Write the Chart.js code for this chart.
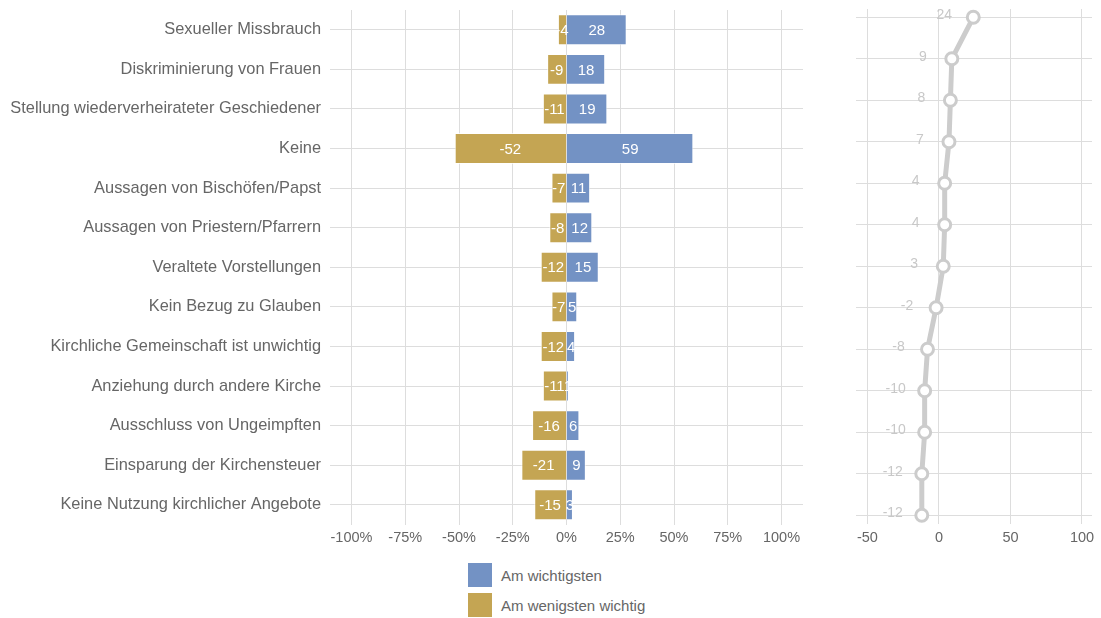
<!DOCTYPE html>
<html>
<head>
<meta charset="utf-8">
<script src="https://cdn.jsdelivr.net/npm/chart.js@4.4.1/dist/chart.umd.min.js"></script>
<style>
  html, body { margin: 0; padding: 0; background: #fff; }
  body { width: 1101px; height: 618px; position: relative; overflow: hidden; font-family: 'Liberation Sans', Arial, sans-serif; }
  #barsWrap { position: absolute; left: 0; top: 0; width: 815px; height: 560px; }
  #netWrap { position: absolute; left: 840px; top: 0; width: 261px; height: 560px; }
  .legend { position: absolute; left: 468px; top: 563px; }
  .legend-item { display: flex; align-items: center; height: 24px; margin-bottom: 6px; color: #666; font-size: 15px; }
  .legend-item span.box { width: 24px; height: 24px; margin-right: 9px; }
</style>
</head>
<body>
<div id="barsWrap"><canvas id="barsChart" width="815" height="560"></canvas></div>
<div id="netWrap"><canvas id="netChart" width="261" height="560"></canvas></div>
<div class="legend">
  <div class="legend-item"><span class="box" style="background:#7392c4"></span>Am wichtigsten</div>
  <div class="legend-item"><span class="box" style="background:#c4a553"></span>Am wenigsten wichtig</div>
</div>
<script>
// Gründe, Kategorien
const categories = [
  'Sexueller Missbrauch',
  'Diskriminierung von Frauen',
  'Stellung wiederverheirateter Geschiedener',
  'Keine',
  'Aussagen von Bischöfen/Papst',
  'Aussagen von Priestern/Pfarrern',
  'Veraltete Vorstellungen',
  'Kein Bezug zu Glauben',
  'Kirchliche Gemeinschaft ist unwichtig',
  'Anziehung durch andere Kirche',
  'Ausschluss von Ungeimpften',
  'Einsparung der Kirchensteuer',
  'Keine Nutzung kirchlicher Angebote'
];

// Werte in Prozent
const mostImportant = [28, 18, 19, 59, 11, 12, 15, 5, 4, 1, 6, 9, 3];
const leastImportant = [-4, -9, -11, -52, -7, -8, -12, -7, -12, -11, -16, -21, -15];
// Saldo (rechte Grafik)
const netBalance = [24, 9, 8, 7, 4, 4, 3, -2, -8, -10, -10, -12, -12];

// Achsenbeschriftung
const pctTicks = [-100, -75, -50, -25, 0, 25, 50, 75, 100];
const netTicks = [-50, 0, 50, 100];

const COLORS = {
  blue: '#7392c4',
  gold: '#c4a553',
  grid: '#dddddd',
  text: '#666666',
  tick: '#666666',
  line: '#cccccc',
  netLabel: '#c8c8c8'
};
const FONT = 'Liberation Sans';

// Werte mittig in die Balken schreiben
const barLabels = {
  id: 'barLabels',
  afterDatasetsDraw(chart) {
    const ctx = chart.ctx;
    ctx.save();
    ctx.font = '15px ' + FONT;
    ctx.fillStyle = '#fff';
    ctx.textAlign = 'center';
    ctx.textBaseline = 'middle';
    chart.data.datasets.forEach((ds, i) => {
      chart.getDatasetMeta(i).data.forEach((bar, j) => {
        const x = (bar.x + bar.base) / 2;
        ctx.fillText(String(ds.data[j]), x, bar.y + 1);
      });
    });
    ctx.restore();
  }
};

// Saldo-Werte links neben die Punkte
const netLabels = {
  id: 'netLabels',
  afterDatasetsDraw(chart) {
    const ctx = chart.ctx;
    ctx.save();
    ctx.font = '14px ' + FONT;
    ctx.fillStyle = COLORS.netLabel;
    ctx.textAlign = 'center';
    ctx.textBaseline = 'middle';
    chart.getDatasetMeta(0).data.forEach((pt, j) => {
      ctx.fillText(String(netBalance[j]), pt.x - 29, pt.y - 2);
    });
    ctx.restore();
  }
};

new Chart(document.getElementById('barsChart'), {
  type: 'bar',
  data: {
    labels: categories,
    datasets: [
      {
        label: 'Am wichtigsten',
        data: mostImportant,
        backgroundColor: COLORS.blue,
        borderColor: 'rgba(255,255,255,0.7)',
        borderWidth: 1,
        barPercentage: 0.78,
        categoryPercentage: 1
      },
      {
        label: 'Am wenigsten wichtig',
        data: leastImportant,
        backgroundColor: COLORS.gold,
        borderColor: 'rgba(255,255,255,0.7)',
        borderWidth: 1,
        barPercentage: 0.78,
        categoryPercentage: 1
      }
    ]
  },
  options: {
    indexAxis: 'y',
    responsive: false,
    animation: false,
    layout: { padding: { top: 10, right: 12, bottom: 8, left: 0 } },
    plugins: {
      legend: { display: false },
      tooltip: { enabled: false }
    },
    scales: {
      x: {
        stacked: true,
        min: -110,
        max: 110,
        afterBuildTicks: scale => { scale.ticks = pctTicks.map(v => ({ value: v })); },
        border: { display: false },
        grid: { color: COLORS.grid, drawTicks: false },
        ticks: {
          color: COLORS.tick,
          padding: 5,
          font: { family: FONT, size: 14.5 },
          callback: v => v + '%'
        }
      },
      y: {
        stacked: true,
        afterFit: scale => {
          scale.width = 330;
          scale.paddingTop = 0;
          scale.paddingBottom = 0;
        },
        border: { display: false },
        grid: { color: COLORS.grid, offset: false, drawTicks: false },
        ticks: {
          color: COLORS.text,
          padding: 9,
          font: { family: FONT, size: 16.4 }
        }
      }
    }
  },
  plugins: [barLabels]
});

new Chart(document.getElementById('netChart'), {
  type: 'line',
  data: {
    datasets: [{
      data: netBalance.map((v, i) => ({ x: v, y: i })),
      borderColor: COLORS.line,
      borderWidth: 5,
      pointRadius: 6,
      pointBorderWidth: 3,
      pointBackgroundColor: '#fff',
      pointBorderColor: COLORS.line
    }]
  },
  options: {
    responsive: false,
    animation: false,
    layout: { padding: { top: 8, right: 8, bottom: 7, left: 16 } },
    plugins: {
      legend: { display: false },
      tooltip: { enabled: false }
    },
    scales: {
      x: {
        type: 'linear',
        min: -58,
        max: 107,
        afterBuildTicks: scale => { scale.ticks = netTicks.map(v => ({ value: v })); },
        border: { display: false },
        grid: { color: COLORS.grid, drawTicks: false },
        ticks: {
          color: COLORS.tick,
          padding: 6,
          font: { family: FONT, size: 14.5 }
        }
      },
      y: {
        type: 'linear',
        reverse: true,
        min: -0.2,
        max: 12.2,
        afterBuildTicks: scale => { scale.ticks = categories.map((c, i) => ({ value: i })); },
        afterFit: scale => { scale.width = 0; },
        border: { display: false },
        grid: { color: COLORS.grid, drawTicks: false },
        ticks: { display: false }
      }
    }
  },
  plugins: [netLabels]
});
</script>
</body>
</html>
